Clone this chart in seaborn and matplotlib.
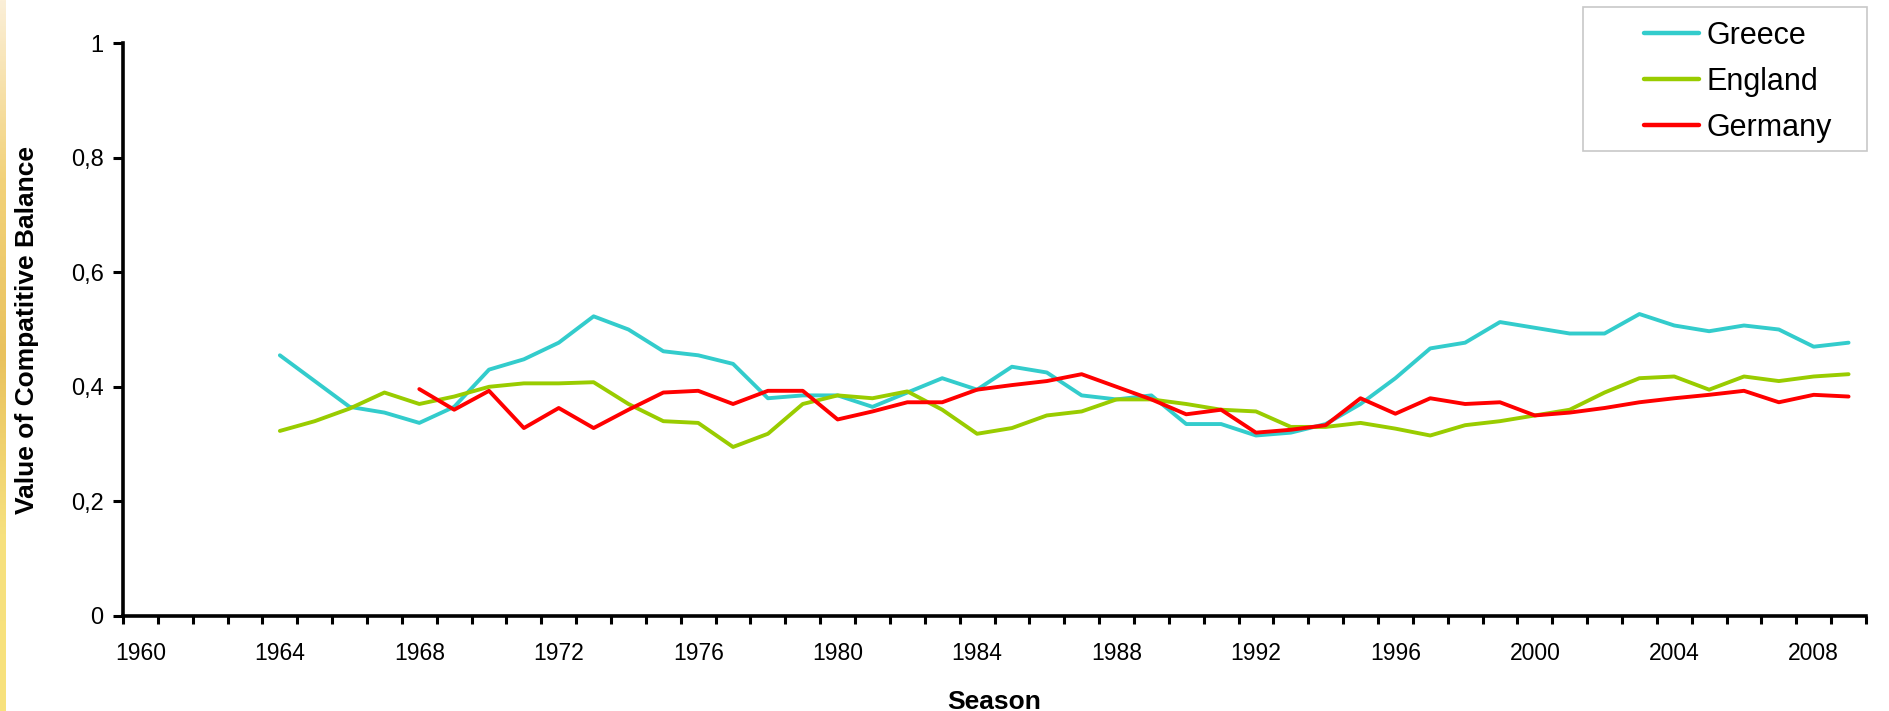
import numpy as np
import pandas as pd
import matplotlib
matplotlib.use("Agg")
import matplotlib.pyplot as plt
from matplotlib.patches import Rectangle
from matplotlib.ticker import FixedLocator, FuncFormatter
import seaborn as sns

# ---------------- data ----------------
years_greece = list(range(1964, 2010))
greece = [0.455, 0.410, 0.365, 0.355, 0.337, 0.365, 0.430, 0.448, 0.477, 0.523,
          0.500, 0.462, 0.455, 0.440, 0.380, 0.385, 0.385, 0.365, 0.390, 0.415,
          0.395, 0.435, 0.425, 0.385, 0.378, 0.385, 0.335, 0.335, 0.315, 0.320,
          0.335, 0.370, 0.415, 0.467, 0.477, 0.513, 0.503, 0.493, 0.493, 0.527,
          0.507, 0.497, 0.507, 0.500, 0.470, 0.477]

years_england = list(range(1964, 2010))
england = [0.323, 0.340, 0.362, 0.390, 0.370, 0.383, 0.400, 0.406, 0.406, 0.408,
           0.370, 0.340, 0.337, 0.295, 0.318, 0.370, 0.385, 0.380, 0.392, 0.360,
           0.318, 0.328, 0.350, 0.357, 0.378, 0.378, 0.370, 0.360, 0.357, 0.330,
           0.330, 0.337, 0.327, 0.315, 0.333, 0.340, 0.350, 0.360, 0.390, 0.415,
           0.418, 0.395, 0.418, 0.410, 0.418, 0.422]

years_germany = list(range(1968, 2010))
germany = [0.396, 0.360, 0.393, 0.328, 0.363, 0.328, 0.360, 0.390, 0.393, 0.370,
           0.393, 0.393, 0.343, 0.357, 0.373, 0.373, 0.395, 0.403, 0.410, 0.422,
           0.400, 0.378, 0.352, 0.360, 0.320, 0.325, 0.333, 0.380, 0.353, 0.380,
           0.370, 0.373, 0.350, 0.355, 0.363, 0.373, 0.380, 0.386, 0.393, 0.373,
           0.386, 0.383]

countries = ["Greece", "England", "Germany"]
colors = ["#33CCCC", "#99CC00", "#FF0000"]
season_first, season_last = 1960, 2009
xtick_labels = [str(y) for y in range(1960, 2009, 4)]
ytick_values = [0, 0.2, 0.4, 0.6, 0.8, 1.0]

df = pd.concat([
    pd.DataFrame({"Season": years_greece, "Value": greece, "Country": "Greece"}),
    pd.DataFrame({"Season": years_england, "Value": england, "Country": "England"}),
    pd.DataFrame({"Season": years_germany, "Value": germany, "Country": "Germany"}),
], ignore_index=True)

# ---------------- style ----------------
sns.set_theme(style="white")
plt.rcParams["font.family"] = ["Liberation Sans", "DejaVu Sans"]

W, H, DPI = 1889, 711, 100
fig = plt.figure(figsize=(W / DPI, H / DPI), dpi=DPI)
fig.patch.set_facecolor("white")

x0, x1 = 123, 1866
y0, y1 = 616, 43
ax = fig.add_axes([x0 / W, 1 - y0 / H, (x1 - x0) / W, (y0 - y1) / H])

sns.lineplot(data=df, x="Season", y="Value", hue="Country", hue_order=countries,
             palette=colors, linewidth=2.8, ax=ax, sort=True, legend=True,
             estimator=None)

ax.set_xlim(season_first - 0.5, season_last + 0.5)
ax.set_ylim(0, 1)

# y axis
ax.yaxis.set_major_locator(FixedLocator(ytick_values))
ax.yaxis.set_major_formatter(FuncFormatter(
    lambda v, p: "0" if v == 0 else ("1" if v == 1 else f"{v:.1f}".replace(".", ","))))
ax.tick_params(axis="y", which="major", direction="out", length=7, width=2.2,
               color="black", labelsize=17, pad=7, left=True, labelcolor="black")

# x axis: labels at category centers, ticks at category boundaries
ax.xaxis.set_major_locator(FixedLocator([int(s) for s in xtick_labels]))
ax.set_xticklabels(xtick_labels, fontsize=16.5)
ax.xaxis.set_minor_locator(FixedLocator(np.arange(season_first - 0.5, season_last + 1.0, 1.0)))
ax.tick_params(axis="x", which="major", length=0, pad=19, bottom=True, labelcolor="black")
ax.tick_params(axis="x", which="minor", direction="out", length=6, width=2.2,
               color="black", bottom=True)

for s in ["top", "right"]:
    ax.spines[s].set_visible(False)
for s in ["left", "bottom"]:
    ax.spines[s].set_color("black")
    ax.spines[s].set_linewidth(2.6)

ax.set_xlabel("Season", fontsize=19, fontweight="bold", labelpad=18, color="black")
ax.set_ylabel("Value of Compatitive Balance", fontsize=19, fontweight="bold",
              labelpad=23, color="black")
ax.grid(False)

# legend
handles, labels = ax.get_legend_handles_labels()
if ax.legend_:
    ax.legend_.remove()
leg = fig.legend(handles, labels, loc="upper left",
                 bbox_to_anchor=(1644 / W, 1 - 21 / H), frameon=False,
                 fontsize=22, handlelength=1.8, handletextpad=0.25,
                 labelspacing=0.52, borderpad=0, borderaxespad=0)
for line in leg.get_lines():
    line.set_linewidth(3.2)
for t in leg.get_texts():
    t.set_color("black")
fig.patches.append(Rectangle((1583 / W, 1 - 151 / H), (1867 - 1583) / W, (151 - 7) / H,
                             transform=fig.transFigure, fill=False,
                             edgecolor="#C8C8C8", linewidth=1.2))

# left edge texture strip
strip = fig.add_axes([0, 0, 6 / W, 1])
grad = np.linspace(0, 1, 256).reshape(-1, 1)
strip.imshow(grad, aspect="auto", cmap=matplotlib.colors.LinearSegmentedColormap.from_list(
    "s", ["#FBEFD8", "#F2D27A", "#E9C25E", "#F6E07E", "#F8E27C"]))
strip.axis("off")

fig.savefig("out.png", dpi=DPI)
